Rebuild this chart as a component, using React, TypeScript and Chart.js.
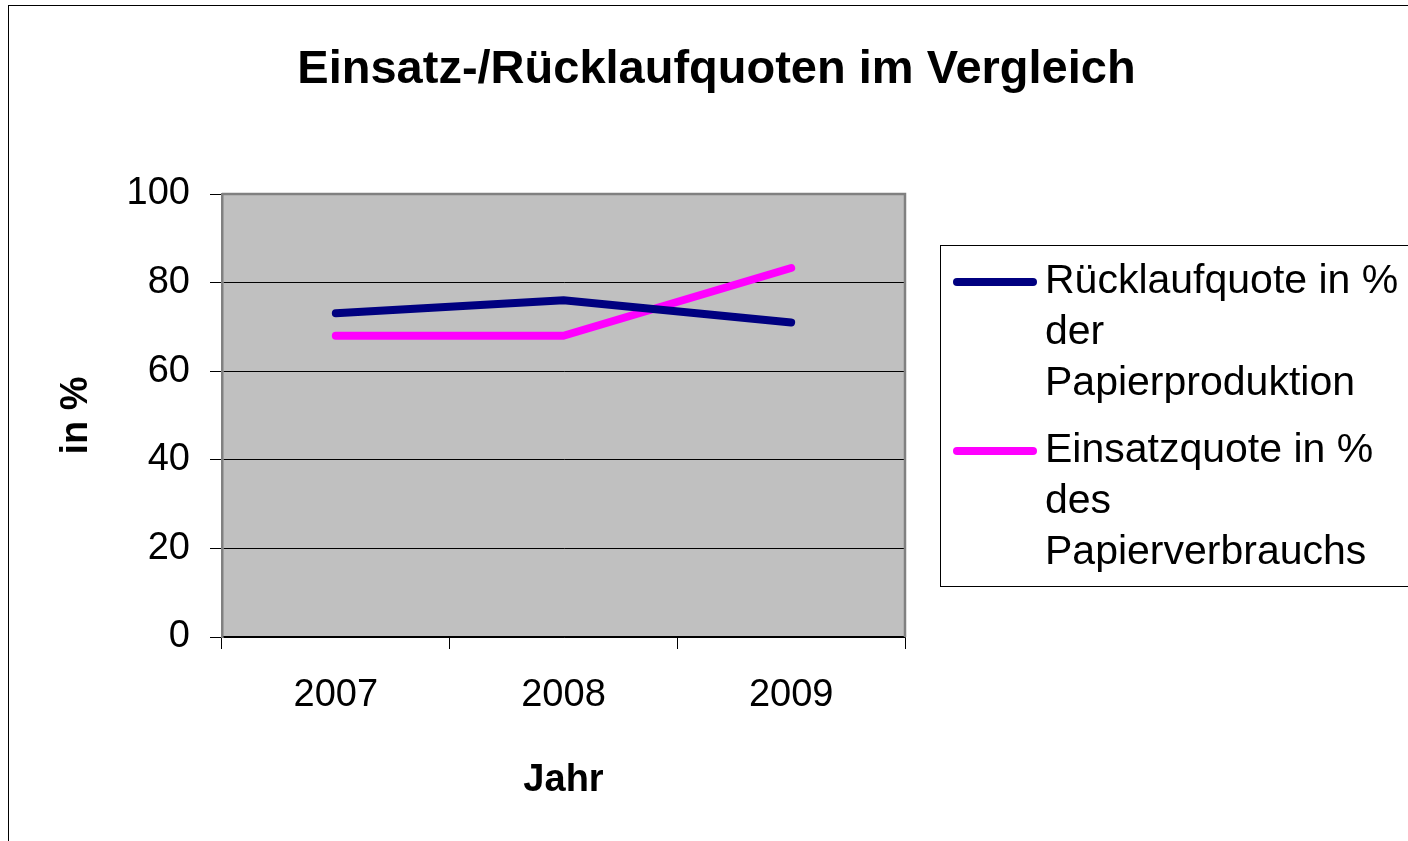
import React, { useEffect, useRef } from "react";
import { Chart, registerables } from "chart.js";

Chart.register(...registerables);

const chartTitle = "Einsatz-/Rücklaufquoten im Vergleich";
const years = ["2007", "2008", "2009"];
const ruecklaufquote = [73.1, 76.0, 71.0];
const einsatzquote = [68.0, 68.0, 83.3];
const seriesLabels = [
  "Rücklaufquote in % der Papierproduktion",
  "Einsatzquote in % des Papierverbrauchs",
];
const legendLines = [
  ["Rücklaufquote in %", "der", "Papierproduktion"],
  ["Einsatzquote in %", "des", "Papierverbrauchs"],
];
const yTitle = "in %";
const xTitle = "Jahr";
const seriesColors = ["#000080", "#FF00FF"];

const FONT = "'Liberation Sans', Arial, sans-serif";

const framePlugin = {
  id: "frame",
  beforeDraw(chart: any) {
    const { ctx, chartArea } = chart;
    ctx.save();
    ctx.fillStyle = "#ffffff";
    ctx.fillRect(0, 0, chart.width, chart.height);
    ctx.strokeStyle = "#000000";
    ctx.lineWidth = 1;
    ctx.strokeRect(8.5, 5.5, 1600, 1200);
    ctx.fillStyle = "#C0C0C0";
    ctx.fillRect(
      chartArea.left,
      chartArea.top,
      chartArea.right - chartArea.left,
      chartArea.bottom - chartArea.top
    );
    ctx.restore();
  },
  beforeDatasetsDraw(chart: any) {
    const { ctx, chartArea } = chart;
    ctx.save();
    ctx.strokeStyle = "#808080";
    ctx.lineWidth = 2.5;
    ctx.beginPath();
    ctx.moveTo(chartArea.left, chartArea.top);
    ctx.lineTo(chartArea.right, chartArea.top);
    ctx.lineTo(chartArea.right, chartArea.bottom);
    ctx.stroke();
    ctx.restore();
  },
  afterDraw(chart: any) {
    const { ctx } = chart;
    ctx.save();
    // title
    ctx.fillStyle = "#000";
    ctx.font = `bold 47px ${FONT}`;
    ctx.textAlign = "center";
    ctx.textBaseline = "alphabetic";
    ctx.fillText(chartTitle, 716.5, 83);
    // legend
    ctx.strokeStyle = "#000";
    ctx.lineWidth = 1;
    ctx.strokeRect(940.5, 245.5, 600, 341);
    ctx.font = `41px ${FONT}`;
    ctx.textAlign = "left";
    const groupTops = [293, 462];
    chart.data.datasets.forEach((ds: any, i: number) => {
      const base = groupTops[i];
      ctx.strokeStyle = ds.borderColor;
      ctx.lineWidth = 8;
      ctx.lineCap = "round";
      ctx.beginPath();
      ctx.moveTo(957, base - 11);
      ctx.lineTo(1033, base - 11);
      ctx.stroke();
      ctx.fillStyle = "#000";
      legendLines[i].forEach((line, j) => {
        ctx.fillText(line, 1045, base + j * 51);
      });
    });
    ctx.restore();
  },
};

export default function App() {
  const ref = useRef<HTMLCanvasElement | null>(null);
  useEffect(() => {
    if (!ref.current) return;
    Chart.defaults.font.family = FONT;
    const chart = new Chart(ref.current, {
      type: "line",
      data: {
        labels: years,
        datasets: [
          {
            label: seriesLabels[0],
            data: ruecklaufquote,
            borderColor: seriesColors[0],
            backgroundColor: seriesColors[0],
            borderWidth: 8,
            pointRadius: 0,
            borderCapStyle: "round",
            borderJoinStyle: "round",
            tension: 0,
          },
          {
            label: seriesLabels[1],
            data: einsatzquote,
            borderColor: seriesColors[1],
            backgroundColor: seriesColors[1],
            borderWidth: 8,
            pointRadius: 0,
            borderCapStyle: "round",
            borderJoinStyle: "round",
            tension: 0,
          },
        ],
      },
      options: {
        animation: false,
        responsive: false,
        maintainAspectRatio: false,
        layout: { padding: { top: 194, right: 503, bottom: 0, left: 0 } },
        plugins: {
          legend: { display: false },
          title: { display: false },
          tooltip: { enabled: false },
        },
        scales: {
          x: {
            type: "category",
            offset: true,
            grid: {
              offset: true,
              drawOnChartArea: false,
              drawTicks: true,
              tickLength: 12,
              color: "#000",
            },
            border: { color: "#000", width: 1.5 },
            ticks: {
              color: "#000",
              font: { size: 38 },
              padding: 24,
              maxRotation: 0,
            },
            title: {
              display: true,
              text: xTitle,
              color: "#000",
              font: { size: 38, weight: "bold" },
              padding: { top: 0, bottom: 38 },
            },
            afterFit: (s: any) => {
              s.height = 204;
            },
          },
          y: {
            min: 0,
            max: 100,
            ticks: {
              stepSize: 20,
              color: "#000",
              font: { size: 38 },
              padding: 20,
            },
            grid: {
              color: "#000",
              lineWidth: 1,
              drawTicks: true,
              tickLength: 12,
            },
            border: { color: "#808080", width: 2.5 },
            title: {
              display: true,
              text: yTitle,
              color: "#000",
              font: { size: 38, weight: "bold" },
              padding: { top: 54, bottom: 0 },
            },
            afterFit: (s: any) => {
              s.width = 222;
            },
          },
        },
      },
      plugins: [framePlugin],
    });
    return () => chart.destroy();
  }, []);
  return (
    <div style={{ position: "absolute", left: 0, top: 0, width: 1408, height: 841 }}>
      <canvas ref={ref} width={1408} height={841} style={{ width: 1408, height: 841, display: "block" }} />
    </div>
  );
}
